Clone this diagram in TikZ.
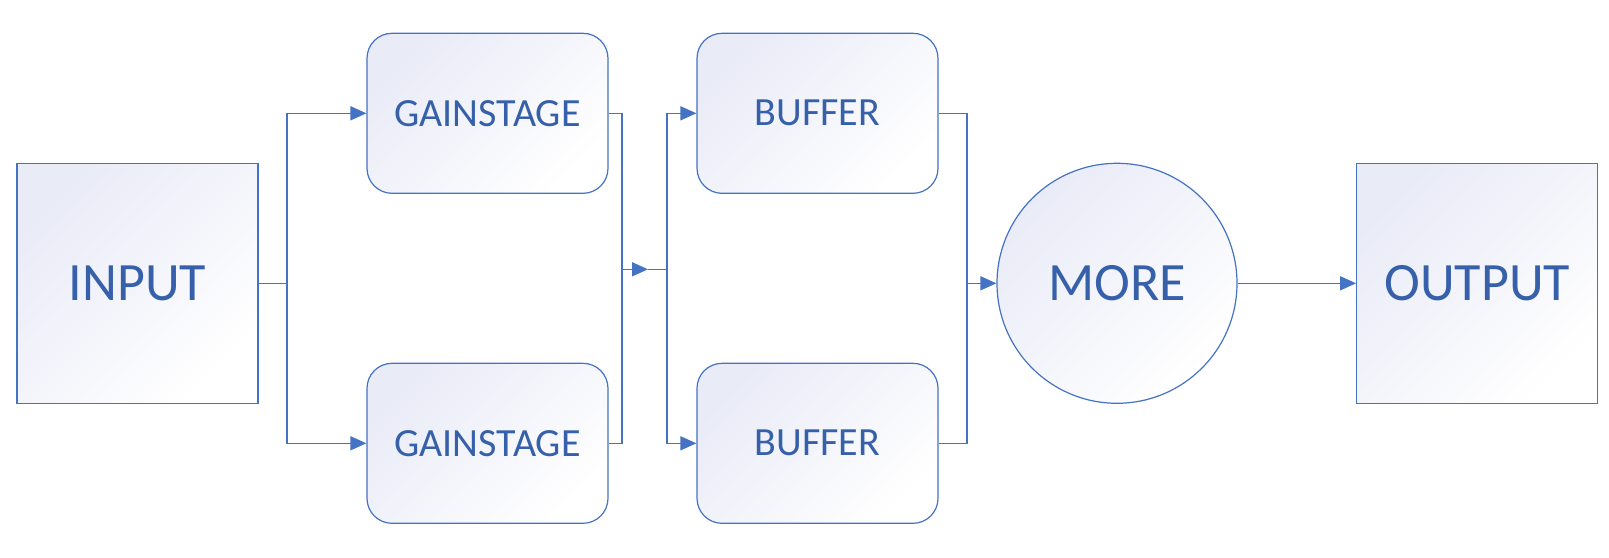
\documentclass[tikz,border=0pt]{standalone}
\usepackage{fontspec}
\setmainfont{Carlito}
\usepackage{tikz}
\usetikzlibrary{arrows.meta}

\definecolor{linec}{RGB}{68,114,196}
\definecolor{textc}{RGB}{55,96,170}
\definecolor{fillc}{RGB}{233,235,247}

\tikzset{
  blk/.style={draw=linec, line width=1.2pt, text=textc,
    top color=fillc, middle color=white, bottom color=white, shading angle=45},
  bigblk/.style={blk, minimum width=241pt, minimum height=240pt,
    font=\fontsize{54}{62}\selectfont},
  stageblk/.style={blk, rounded corners=25pt, minimum width=241pt, minimum height=160pt,
    font=\fontsize{40}{48}\selectfont},
  wire/.style={draw=linec, line width=1.5pt},
  arr/.style={wire, -{Triangle[length=16pt,width=14pt]}}
}

\begin{document}
\begin{tikzpicture}[x=1pt, y=-1pt]
    \useasboundingbox (0,0) rectangle (1609,557);
    \node[bigblk] at (137.5,283.3) (In) {INPUT};
    \node[stageblk] at (487.5,113.3) (Gain1) {GAINSTAGE};
    \node[stageblk] at (487.5,443.3) (Gain2) {GAINSTAGE};
    \node[stageblk] at (817.5,113.3) (Buf1) {BUFFER};
    \node[stageblk] at (817.5,443.3) (Buf2) {BUFFER};
    \node[blk, circle, minimum size=240pt, font=\fontsize{54}{62}\selectfont] at (1117,283.3) (More) {MORE};
    \node[bigblk] at (1477.2,283.3) (Out) {OUTPUT};
    \coordinate (S1) at (287,283.3);
    \coordinate (J1) at (622,269.3);
    \coordinate (A1) at (648,269.3);
    \coordinate (S2) at (667,269.3);
    \coordinate (J2) at (967,283.3);
    \path [wire] (In.east) -- (S1);
    \path [arr] (S1) |- (Gain1.west);
    \path [arr] (S1) |- (Gain2.west);
    \path [wire] (Gain1.east) -| (J1);
    \path [wire] (Gain2.east) -| (J1);
    \path [arr] (J1) -- (A1);
    \path [wire] (A1) -- (S2);
    \path [arr] (S2) |- (Buf1.west);
    \path [arr] (S2) |- (Buf2.west);
    \path [wire] (Buf1.east) -| (J2);
    \path [wire] (Buf2.east) -| (J2);
    \path [arr] (J2) -- (More.west);
    \path [arr] (More.east) -- (Out.west);
\end{tikzpicture}
\end{document}
